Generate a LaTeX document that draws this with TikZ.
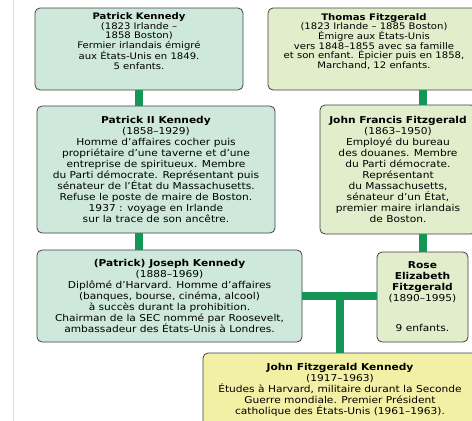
\documentclass[tikz,border=0pt]{standalone}
\usepackage{fontspec}
\setmainfont{DejaVu Sans}[FakeStretch=1.12]
\usetikzlibrary{positioning}
\definecolor{kenfill}{RGB}{206,233,219}
\definecolor{fitzfill}{RGB}{226,238,203}
\definecolor{jfkfill}{RGB}{242,240,165}
\definecolor{linkgreen}{RGB}{22,150,86}
\begin{document}
\begin{tikzpicture}[x=1pt,y=-1pt,
	every node/.style={draw=black!75,line width=.8pt,rounded corners=5pt,align=center,inner sep=0pt,font=\fontsize{9.5}{11}\selectfont},
	kennedy/.style={fill=kenfill},
	fitz/.style={fill=fitzfill},
	prez/.style={fill=jfkfill},
	link/.style={draw=linkgreen,line width=8pt}]
		\useasboundingbox (0,0) rectangle (472,421);
		\clip (0,0) rectangle (472,421);
		\draw[black!12,line width=1pt] (13,0) -- (13,421);

		%kennedy side
		\node[kennedy,minimum width=208,minimum height=82,text depth=16pt,font=\fontsize{9}{9.7}\selectfont] (patrick) at (139,49) {\textbf{Patrick Kennedy}\\(1823 Irlande –\\1858 Boston)\\Fermier irlandais émigré\\aux États-Unis en 1849.\\5 enfants.};
		\node[kennedy,minimum width=238,minimum height=127] (patrick2) at (156,169.5) {\textbf{Patrick II Kennedy}\\(1858–1929)\\Homme d'affaires cocher puis\\propriétaire d'une taverne et d'une\\entreprise de spiritueux. Membre\\du Parti démocrate. Représentant puis\\sénateur de l'État du Massachusetts.\\Refuse le poste de maire de Boston.\\1937 : voyage en Irlande\\sur la trace de son ancêtre.};
		\node[kennedy,minimum width=265,minimum height=92] (joseph) at (169.5,296) {\textbf{(Patrick) Joseph Kennedy}\\(1888–1969)\\Diplômé d'Harvard. Homme d'affaires\\(banques, bourse, cinéma, alcool)\\à succès durant la prohibition.\\Chairman de la SEC nommé par Roosevelt,\\ambassadeur des États-Unis à Londres.};

		%fitzgerald side
		\node[fitz,minimum width=212,minimum height=82,text depth=16pt,font=\fontsize{9}{9.7}\selectfont] (thomas) at (374,49) {\textbf{Thomas Fitzgerald}\\(1823 Irlande – 1885 Boston)\\Émigre aux États-Unis\\vers 1848–1855 avec sa famille\\et son enfant. Épicier puis en 1858,\\Marchand, 12 enfants.};
		\node[fitz,minimum width=156,minimum height=129] (johnf) at (398,169.5) {\textbf{John Francis Fitzgerald}\\(1863–1950)\\Employé du bureau\\des douanes. Membre\\du Parti démocrate.\\Représentant\\du Massachusetts,\\sénateur d'un État,\\premier maire irlandais\\de Boston.};
		\node[fitz,minimum width=91,minimum height=90] (rose) at (422.5,297) {\textbf{Rose}\\\textbf{Elizabeth}\\\textbf{Fitzgerald}\\(1890–1995)\\[19pt]9 enfants.};

		%son
		\node[prez,minimum width=274,minimum height=73] (jfk) at (340,389.5) {\textbf{John Fitzgerald Kennedy}\\(1917–1963)\\Études à Harvard, militaire durant la Seconde\\Guerre mondiale. Premier Président\\catholique des États-Unis (1961–1963).};

		%links
		\draw[link] (patrick.south) -- (patrick.south |- patrick2.north);
		\draw[link] (patrick2.south -| patrick.south) -- (joseph.north -| patrick.south);
		\draw[link] (thomas.south -| rose.north) -- (johnf.north -| rose.north);
		\draw[link] (johnf.south -| rose.north) -- (rose.north);
		\draw[link] (joseph.east) -- (joseph.east -| rose.west) coordinate[midway] (wed);
		\draw[link] (wed) -- (wed |- jfk.north);
\end{tikzpicture}
\end{document}
